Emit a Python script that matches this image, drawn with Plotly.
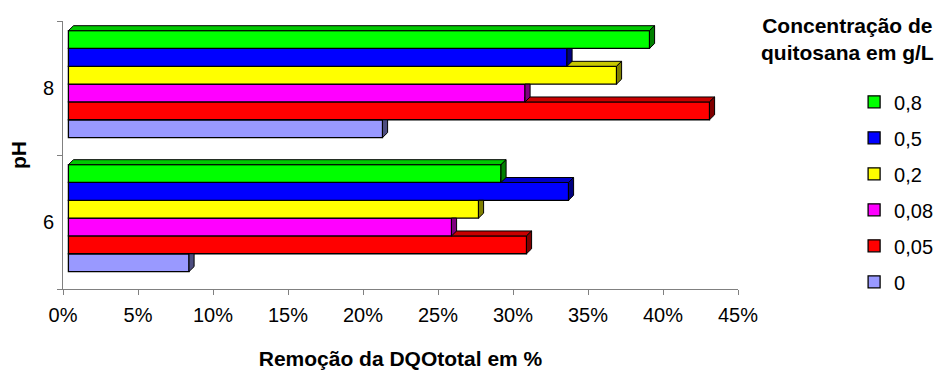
import plotly.graph_objects as go

# pH groups on the vertical axis (numeric positions 0 and 1)
ph_labels = ["6", "8"]
ph_pos = [0, 1]

# chitosan concentration series (g/L), bottom to top within each group
conc_labels = ["0", "0,05", "0,08", "0,2", "0,5", "0,8"]

# COD removal in % for pH 6 and pH 8
rem_0 = [8.4, 21.3]
rem_005 = [30.9, 43.1]
rem_008 = [25.9, 30.8]
rem_02 = [27.7, 36.9]
rem_05 = [33.7, 33.6]
rem_08 = [29.2, 39.1]
series = [rem_0, rem_005, rem_008, rem_02, rem_05, rem_08]

x_ticks = [0, 5, 10, 15, 20, 25, 30, 35, 40, 45]
x_tick_labels = ["0%", "5%", "10%", "15%", "20%", "25%", "30%", "35%", "40%", "45%"]

front = ["#9999FF", "#FF0000", "#FF00FF", "#FFFF00", "#0000FF", "#00FF00"]
top_c = ["#7A7ACC", "#C80000", "#C800C8", "#C8C800", "#0000C8", "#00C800"]
side_c = ["#4D4D80", "#800000", "#800080", "#808000", "#000080", "#008000"]

# 3-D look: face depth in data units
DX = 0.34      # % units (about 5 px)
DY = 0.037     # category units (about 5 px)
INSET = 0.36   # front face starts slightly right of the axis wall
BW = 0.133     # bar thickness in category units
OFF0 = -0.37   # lowest bar offset from group centre

FONT = "Liberation Sans, Arial, sans-serif"

fig = go.Figure()

# front faces as horizontal bars; legend lists the highest concentration first
n_series = len(series)
for k, vals in enumerate(series):
    fig.add_trace(go.Bar(
        y=ph_pos, x=[v - INSET for v in vals], base=INSET,
        orientation="h", width=BW, offset=OFF0 + k * BW,
        marker=dict(color=front[k], line=dict(color="black", width=1.3)),
        name=conc_labels[k], legendgroup=conc_labels[k],
        legendrank=100 + (n_series - k),
        hoverinfo="skip",
    ))


def clip_x_ge(poly, c):
    """Clip a polygon to the half-plane x >= c."""
    out = []
    n = len(poly)
    for i in range(n):
        p, q = poly[i], poly[(i + 1) % n]
        pin, qin = p[0] >= c, q[0] >= c
        if pin:
            out.append(p)
        if pin != qin:
            t = (c - p[0]) / (q[0] - p[0])
            out.append((c, p[1] + t * (q[1] - p[1])))
    return out


# top and side faces, drawn from the lowest bar upward
for k, vals in enumerate(series):
    tx, ty, sx, sy = [], [], [], []
    for g, v in enumerate(vals):
        yb = ph_pos[g] + OFF0 + k * BW
        yt = yb + BW
        va = series[k + 1][g] if k + 1 < len(series) else None
        topf = [(INSET, yt), (v, yt), (v + DX, yt + DY), (INSET + DX, yt + DY)]
        if va is not None:
            topf = [] if va >= v + DX else clip_x_ge(topf, va)
        if topf:
            tx += [p[0] for p in topf] + [topf[0][0], None]
            ty += [p[1] for p in topf] + [topf[0][1], None]
        if va is not None and va > v:
            sidef = [(v, yb), (v + DX, yb + DY), (v + DX, yt), (v, yt)]
        else:
            sidef = [(v, yb), (v + DX, yb + DY), (v + DX, yt + DY), (v, yt)]
        sx += [p[0] for p in sidef] + [sidef[0][0], None]
        sy += [p[1] for p in sidef] + [sidef[0][1], None]
    if tx:
        fig.add_trace(go.Scatter(
            x=tx, y=ty, mode="lines", fill="toself", fillcolor=top_c[k],
            line=dict(color="black", width=1), showlegend=False, hoverinfo="skip"))
    fig.add_trace(go.Scatter(
        x=sx, y=sy, mode="lines", fill="toself", fillcolor=side_c[k],
        line=dict(color="black", width=1), showlegend=False, hoverinfo="skip"))

fig.update_layout(
    width=942, height=370,
    margin=dict(l=63, r=204, t=21, b=81, autoexpand=False),
    paper_bgcolor="white", plot_bgcolor="white",
    font=dict(family=FONT, size=20, color="black"),
    barmode="overlay",
    showlegend=True,
    legend=dict(
        x=1.172, xanchor="left", y=0.771, yanchor="top",
        traceorder="grouped", tracegroupgap=7,
        font=dict(size=20), bgcolor="rgba(0,0,0,0)",
        itemclick=False, itemdoubleclick=False,
    ),
    xaxis=dict(
        range=[0, 45], tickvals=x_ticks, ticktext=x_tick_labels,
        showgrid=False, zeroline=False,
        showline=True, linecolor="#808080", linewidth=1,
        ticks="outside", ticklen=5, tickcolor="#808080",
        tickfont=dict(size=20), ticklabelstandoff=3,
        title=dict(text="<b>Remoção da DQOtotal em %</b>", font=dict(size=21), standoff=26),
    ),
    yaxis=dict(
        range=[-0.5, 1.5], tickvals=ph_pos, ticktext=ph_labels,
        showgrid=False, zeroline=False,
        showline=True, linecolor="#808080", linewidth=1,
        ticks="", tickfont=dict(size=20), ticklabelstandoff=4,
        minor=dict(ticks="outside", tick0=-0.5, dtick=1, ticklen=5, tickcolor="#808080", showgrid=False),
        title=dict(text="<b>pH</b>", font=dict(size=21), standoff=10),
    ),
    annotations=[
        dict(text="<b>Concentração de</b><br><b>quitosana em g/L</b>",
             xref="paper", yref="paper", x=1.162, y=1.035, xanchor="center", yanchor="top",
             showarrow=False, align="center", font=dict(size=21)),
    ],
)

fig.write_html("out.html")
